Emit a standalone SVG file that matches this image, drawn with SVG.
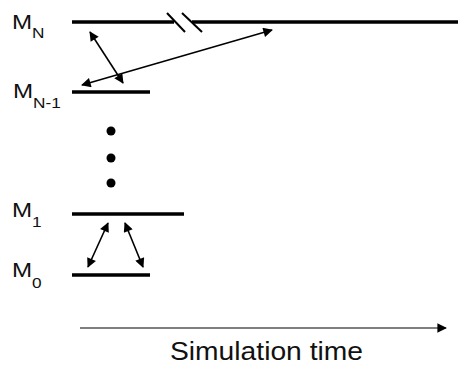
<svg xmlns="http://www.w3.org/2000/svg" width="458" height="369" viewBox="0 0 458 369">
<defs>
<style>
.lvl{stroke:#000;stroke-width:3.5;fill:none}
.arr{stroke:#000;stroke-width:1.6;fill:none;marker-start:url(#ah);marker-end:url(#ah)}
.lbl{font-family:"Liberation Sans",Arial,sans-serif;fill:#111}
</style>
<marker id="ah" viewBox="0 0 10 10" refX="9" refY="5" markerWidth="6.5" markerHeight="6" orient="auto-start-reverse" markerUnits="strokeWidth">
<path d="M0,0 L10,5 L0,10 z" fill="#000"/>
</marker>
<marker id="ta" viewBox="0 0 10 10" refX="9" refY="5" markerWidth="8" markerHeight="9" orient="auto" markerUnits="strokeWidth">
<path d="M0,0 L10,5 L0,10 z" fill="#000"/>
</marker>
</defs>
<rect width="458" height="369" fill="#fff"/>
<g id="level-MN">
<line class="lvl" x1="72" y1="22" x2="174" y2="22"/>
<line class="lvl" x1="192" y1="22" x2="458" y2="22"/>
<line x1="167" y1="13" x2="185" y2="32" stroke="#000" stroke-width="2"/>
<line x1="182" y1="13" x2="202" y2="32" stroke="#000" stroke-width="2"/>
<text class="lbl" transform="translate(12,28.5) scale(1.15,1)" font-size="21">M<tspan font-size="15" dy="9">N</tspan></text>
</g>
<g id="level-MN-1">
<line class="lvl" x1="72" y1="92" x2="150" y2="92"/>
<text class="lbl" transform="translate(13,98) scale(1.15,1)" font-size="21">M<tspan font-size="15" dy="10">N-1</tspan></text>
</g>
<g id="ellipsis">
<circle cx="111" cy="131" r="4.5" fill="#000"/>
<circle cx="111" cy="158" r="4.5" fill="#000"/>
<circle cx="111" cy="183" r="4.5" fill="#000"/>
</g>
<g id="level-M1">
<line class="lvl" x1="72" y1="214" x2="184" y2="214"/>
<text class="lbl" transform="translate(12,217) scale(1.15,1)" font-size="21">M<tspan font-size="15" dy="10">1</tspan></text>
</g>
<g id="level-M0">
<line class="lvl" x1="72" y1="275" x2="150" y2="275"/>
<text class="lbl" transform="translate(12,277) scale(1.15,1)" font-size="21">M<tspan font-size="15" dy="11">0</tspan></text>
</g>
<g id="connectors">
<line class="arr" x1="90" y1="32" x2="123" y2="83"/>
<line class="arr" x1="82" y1="85" x2="272" y2="30"/>
<line class="arr" x1="108" y1="223" x2="88" y2="267"/>
<line class="arr" x1="125" y1="223" x2="143" y2="267"/>
</g>
<g id="time-axis">
<line x1="80" y1="328" x2="446" y2="328" stroke="#000" stroke-width="1.2" marker-end="url(#ta)"/>
<text class="lbl" transform="translate(170,360) scale(1.13,1)" font-size="25">Simulation time</text>
</g>
</svg>
